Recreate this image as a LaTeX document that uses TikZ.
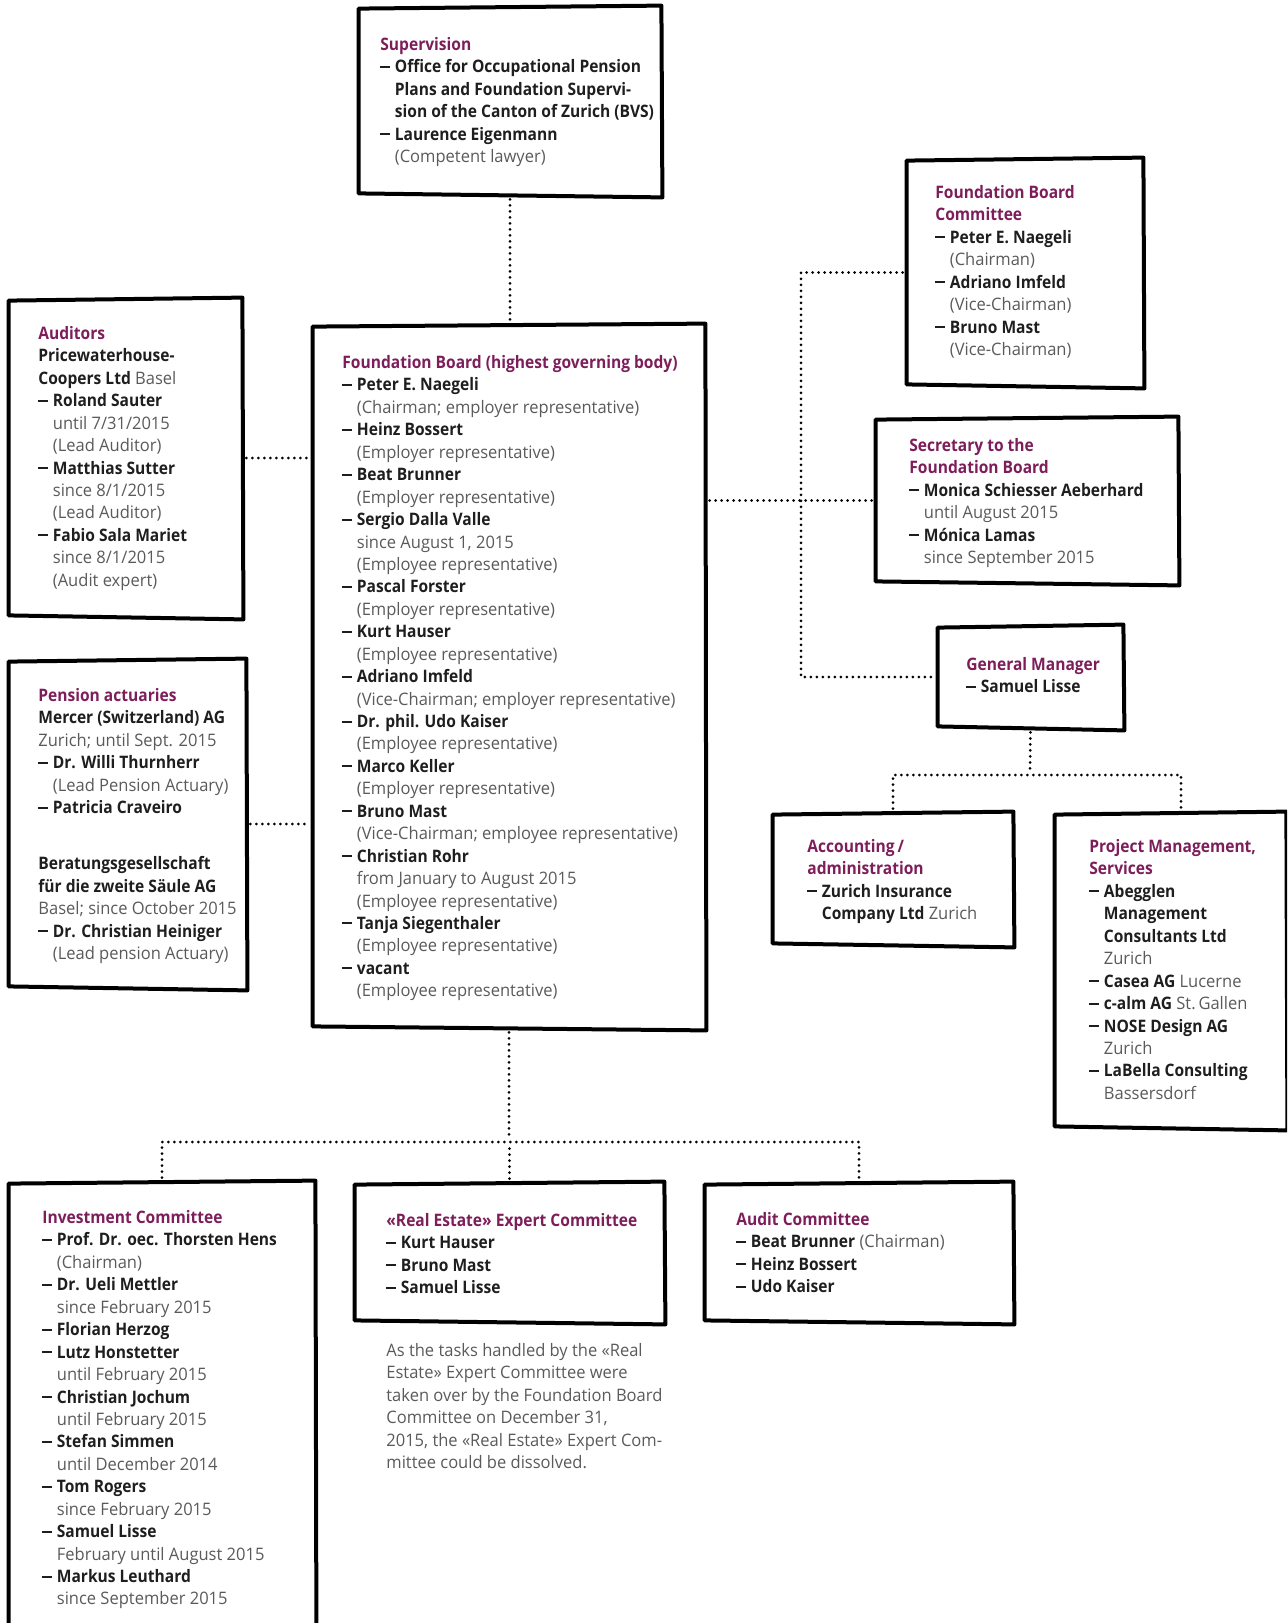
\documentclass[tikz,border=0pt]{standalone}
\usepackage{fontspec}
\setmainfont{Open Sans}[FakeStretch=0.96, BoldFeatures={FakeStretch=0.905}]
\usetikzlibrary{fit,calc}
\definecolor{tit}{RGB}{125,30,90}
\definecolor{nmc}{RGB}{30,30,30}
\definecolor{txc}{RGB}{90,90,90}
\newlength\dashw
\setlength\dashw{7.25pt}
\newcommand\tl[1]{{\color{tit}\bfseries #1}}
\newcommand\nm[1]{{\color{nmc}\bfseries #1}}
\newcommand\dd{\makebox[\dashw][l]{\color{nmc}\rule[2.5pt]{4.8pt}{1pt}}}
\newcommand\ii{\hspace*{\dashw}}
\newcommand\sketch[1]{\draw[skline] ([shift={(-1,1)}]#1.north west) -- ([shift={(1,-2)}]#1.north east) -- ([shift={(2,3)}]#1.south east) -- ([shift={(-1,-1)}]#1.south west) -- cycle;}
\tikzset{
  skline/.style={line width=2pt, line join=round, draw=black},
  boxarea/.style={inner sep=0pt, draw=none},
  txt/.style={anchor=north west, inner sep=0pt, align=left, text=txc, font=\fontsize{8.6}{11.22}\selectfont},
  dotc/.style={line width=1.5pt, line cap=round, dash pattern=on 0pt off 3pt, shorten <=2.5pt, shorten >=2.5pt},
}
\begin{document}
\begin{tikzpicture}[x=0.5pt,y=-0.5pt]
\useasboundingbox (0,0) rectangle (1287,1623);
\clip (0,0) rectangle (1287,1623);
% boxes
\node[boxarea, fit={(360,8) (660,194)}] (sup) {};
\node[boxarea, fit={(10,300) (241,616)}] (aud) {};
\node[boxarea, fit={(10,661) (245,987)}] (pen) {};
\node[boxarea, fit={(314,326) (704,1027)}] (fb) {};
\node[boxarea, fit={(908,160) (1142,385)}] (fbc) {};
\node[boxarea, fit={(877,419) (1177,582)}] (sec) {};
\node[boxarea, fit={(939,627) (1122,727)}] (gm) {};
\node[boxarea, fit={(774,814) (1012,944)}] (acc) {};
\node[boxarea, fit={(1056,814) (1285,1127)}] (proj) {};
\node[boxarea, fit={(10,1183) (314,1628)}] (inv) {};
\node[boxarea, fit={(356,1184) (663,1321)}] (rec) {};
\node[boxarea, fit={(706,1184) (1012,1321)}] (audc) {};
\foreach \b in {sup,aud,pen,fb,fbc,sec,gm,acc,proj,inv,rec,audc} {\sketch{\b}}
% texts
\node[txt] (tsup) at (380,37) {\tl{Supervision}\\
\dd\nm{Office for Occupational Pension}\\
\ii\nm{Plans and Foundation Supervi-}\\
\ii\nm{sion of the Canton of Zurich (BVS)}\\
\dd\nm{Laurence Eigenmann}\\
\ii(Competent lawyer)};
\node[txt] (tfbc) at (935,185) {\tl{Foundation Board}\\
\tl{Committee}\\
\dd\nm{Peter E. Naegeli}\\
\ii(Chairman)\\
\dd\nm{Adriano Imfeld}\\
\ii(Vice-Chairman)\\
\dd\nm{Bruno Mast}\\
\ii(Vice-Chairman)};
\node[txt] (taud) at (38,326) {\tl{Auditors}\\
\nm{Pricewaterhouse-}\\
\nm{Coopers Ltd} Basel\\
\dd\nm{Roland Sauter}\\
\ii until 7/31/2015\\
\ii(Lead Auditor)\\
\dd\nm{Matthias Sutter}\\
\ii since 8/1/2015\\
\ii(Lead Auditor)\\
\dd\nm{Fabio Sala Mariet}\\
\ii since 8/1/2015\\
\ii(Audit expert)};
\node[txt] (tfb) at (342,355) {\tl{Foundation Board (highest governing body)}\\
\dd\nm{Peter E. Naegeli}\\
\ii(Chairman; employer representative)\\
\dd\nm{Heinz Bossert}\\
\ii(Employer representative)\\
\dd\nm{Beat Brunner}\\
\ii(Employer representative)\\
\dd\nm{Sergio Dalla Valle}\\
\ii since August 1, 2015\\
\ii(Employee representative)\\
\dd\nm{Pascal Forster}\\
\ii(Employer representative)\\
\dd\nm{Kurt Hauser}\\
\ii(Employee representative)\\
\dd\nm{Adriano Imfeld}\\
\ii(Vice-Chairman; employer representative)\\
\dd\nm{Dr. phil. Udo Kaiser}\\
\ii(Employee representative)\\
\dd\nm{Marco Keller}\\
\ii(Employer representative)\\
\dd\nm{Bruno Mast}\\
\ii(Vice-Chairman; employee representative)\\
\dd\nm{Christian Rohr}\\
\ii from January to August 2015\\
\ii(Employee representative)\\
\dd\nm{Tanja Siegenthaler}\\
\ii(Employee representative)\\
\dd\nm{vacant}\\
\ii(Employee representative)};
\node[txt] (tsec) at (909,438) {\tl{Secretary to the}\\
\tl{Foundation Board}\\
\dd\nm{Monica Schiesser Aeberhard}\\
\ii until August 2015\\
\dd\nm{Mónica Lamas}\\
\ii since September 2015};
\node[txt] (tgm) at (966,657) {\tl{General Manager}\\
\dd\nm{Samuel Lisse}};
\node[txt] (tpen) at (38,688) {\tl{Pension actuaries}\\
\nm{Mercer (Switzerland) AG}\\
Zurich; until Sept. 2015\\
\dd\nm{Dr. Willi Thurnherr}\\
\ii(Lead Pension Actuary)\\
\dd\nm{Patricia Craveiro}\\[16.8pt]
\nm{Beratungsgesellschaft}\\
\nm{für die zweite Säule AG}\\
Basel; since October 2015\\
\dd\nm{Dr. Christian Heiniger}\\
\ii(Lead pension Actuary)};
\node[txt] (tacc) at (807,839) {\tl{Accounting\,/}\\
\tl{administration}\\
\dd\nm{Zurich Insurance}\\
\ii\nm{Company Ltd} Zurich};
\node[txt] (tproj) at (1089,839) {\tl{Project Management,}\\
\tl{Services}\\
\dd\nm{Abegglen}\\
\ii\nm{Management}\\
\ii\nm{Consultants Ltd}\\
\ii Zurich\\
\dd\nm{Casea AG} Lucerne\\
\dd\nm{c-alm AG} St.\,Gallen\\
\dd\nm{NOSE Design AG}\\
\ii Zurich\\
\dd\nm{LaBella Consulting}\\
\ii Bassersdorf};
\node[txt] (tinv) at (42,1210) {\tl{Investment Committee}\\
\dd\nm{Prof. Dr. oec. Thorsten Hens}\\
\ii(Chairman)\\
\dd\nm{Dr. Ueli Mettler}\\
\ii since February 2015\\
\dd\nm{Florian Herzog}\\
\dd\nm{Lutz Honstetter}\\
\ii until February 2015\\
\dd\nm{Christian Jochum}\\
\ii until February 2015\\
\dd\nm{Stefan Simmen}\\
\ii until December 2014\\
\dd\nm{Tom Rogers}\\
\ii since February 2015\\
\dd\nm{Samuel Lisse}\\
\ii February until August 2015\\
\dd\nm{Markus Leuthard}\\
\ii since September 2015};
\node[txt] (trec) at (386,1213) {\tl{«Real Estate» Expert Committee}\\
\dd\nm{Kurt Hauser}\\
\dd\nm{Bruno Mast}\\
\dd\nm{Samuel Lisse}};
\node[txt] (taudc) at (736,1212) {\tl{Audit Committee}\\
\dd\nm{Beat Brunner} (Chairman)\\
\dd\nm{Heinz Bossert}\\
\dd\nm{Udo Kaiser}};
\node[txt] (tnote) at (386,1343) {As the tasks handled by the «Real\\
Estate» Expert Committee were\\
taken over by the Foundation Board\\
Committee on December 31,\\
2015, the «Real Estate» Expert Com-\\
mittee could be dissolved.};
% connectors
\coordinate (bus) at (801,502);
\coordinate (gmbus) at (1030,775);
\coordinate (fbbus) at (511,1142);
\draw[dotc] (sup.south) -- (sup.south |- fb.north);
\draw[dotc] (aud.east) -- (aud.east -| fb.west);
\draw[dotc] (pen.east) -- (pen.east -| fb.west);
\draw[dotc] (sec.west) -- (sec.west -| fb.east);
\draw[dotc] (fbc.west) -- (fbc.west -| bus) -- (gm.west -| bus) -- (gm.west);
\draw[dotc] (gm.south) -- (gmbus);
\draw[dotc] (acc.north) -- (acc.north |- gmbus) -- ([xshift=5.25pt]proj.north |- gmbus) -- ([xshift=5.25pt]proj.north);
\draw[dotc] (fb.south) -- (fb.south |- fbbus);
\draw[dotc] (inv.north) -- (inv.north |- fbbus) -- (audc.north |- fbbus) -- (audc.north);
\draw[dotc] (rec.north) -- (rec.north |- fbbus);
\end{tikzpicture}
\end{document}
